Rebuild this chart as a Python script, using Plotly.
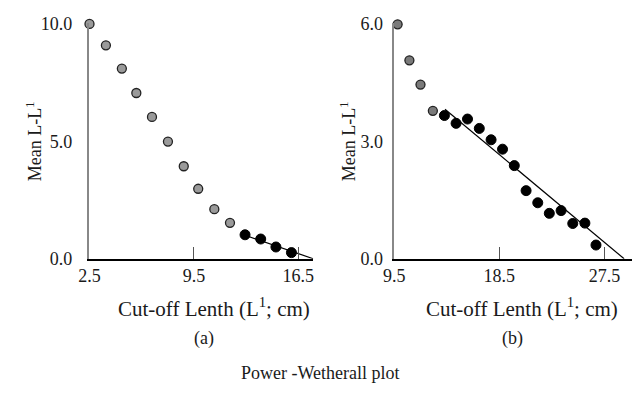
import plotly.graph_objects as go

# ---- data ----
a_gray_x = [2.5, 3.6, 4.67, 5.64, 6.69, 7.76, 8.82, 9.79, 10.87, 11.92]
a_gray_y = [10.0, 9.09, 8.1, 7.06, 6.04, 4.99, 3.94, 2.98, 2.11, 1.53]
a_black_x = [12.93, 13.98, 15.0, 16.04]
a_black_y = [1.02, 0.84, 0.50, 0.26]
a_fit_x = [12.93, 17.5]
a_fit_y = [1.0, 0.0]

b_gray_x = [9.78, 10.79, 11.74, 12.80]
b_gray_y = [5.99, 5.07, 4.45, 3.78]
b_black_x = [13.79, 14.79, 15.77, 16.78, 17.79, 18.77, 19.78, 20.79, 21.79,
             22.78, 23.79, 24.79, 25.83, 26.78]
b_black_y = [3.66, 3.46, 3.57, 3.33, 3.04, 2.80, 2.38, 1.74, 1.43, 1.16,
             1.23, 0.90, 0.91, 0.35]
b_fit_x = [13.84, 29.19]
b_fit_y = [3.82, 0.0]

a_xticks = [2.5, 9.5, 16.5]
a_yticks = [0.0, 5.0, 10.0]
b_xticks = [9.5, 18.5, 27.5]
b_yticks = [0.0, 3.0, 6.0]

FONT = "Liberation Serif"
W, H = 638, 395
TXT = "#1a1a1a"

fig = go.Figure()

gray_marker = dict(size=9, color="#9a9a9a", line=dict(color="#222", width=1.3))
black_marker = dict(size=10, color="black", line=dict(color="black", width=1))

fig.add_trace(go.Scatter(x=a_fit_x, y=a_fit_y, mode="lines",
                         line=dict(color="black", width=1.2), xaxis="x", yaxis="y",
                         cliponaxis=False))
fig.add_trace(go.Scatter(x=a_gray_x, y=a_gray_y, mode="markers", marker=gray_marker,
                         xaxis="x", yaxis="y", cliponaxis=False))
fig.add_trace(go.Scatter(x=a_black_x, y=a_black_y, mode="markers", marker=black_marker,
                         xaxis="x", yaxis="y", cliponaxis=False))

fig.add_trace(go.Scatter(x=b_fit_x, y=b_fit_y, mode="lines",
                         line=dict(color="black", width=1.2), xaxis="x2", yaxis="y2",
                         cliponaxis=False))
fig.add_trace(go.Scatter(x=b_gray_x, y=b_gray_y, mode="markers",
                         marker=dict(size=9, color="#7a7a7a", line=dict(color="#222", width=1.3)),
                         xaxis="x2", yaxis="y2", cliponaxis=False))
fig.add_trace(go.Scatter(x=b_black_x, y=b_black_y, mode="markers", marker=black_marker,
                         xaxis="x2", yaxis="y2", cliponaxis=False))

def px_x(p):
    return p / W

def px_y(p):
    return 1 - p / H

ydom = [px_y(262.7), px_y(15.5)]
common_x = dict(showline=True, linecolor="black", linewidth=1.5, ticks="inside",
                ticklen=12, tickwidth=1.3, tickcolor="#555", showgrid=False,
                zeroline=False, tickfont=dict(family=FONT, size=18, color=TXT))
# label axes: transparent outside ticks push labels away from the axis line
common_y = dict(showline=True, linecolor="#888", linewidth=1.5, ticks="outside",
                tickwidth=1, tickcolor="rgba(0,0,0,0)", showgrid=False,
                zeroline=False, tickfont=dict(family=FONT, size=18, color=TXT))
# overlay axes: visible inside ticks, no labels
tick_y = dict(ticks="inside", ticklen=12, tickwidth=1.3, tickcolor="#777",
              showticklabels=False, showline=False, showgrid=False, zeroline=False)

fig.update_layout(
    width=W, height=H, margin=dict(l=0, r=0, t=0, b=0),
    paper_bgcolor="white", plot_bgcolor="white", showlegend=False,
    font=dict(family=FONT, size=18, color=TXT),
    xaxis=dict(domain=[px_x(80), px_x(308)], range=[2.5, 17.5], tickvals=a_xticks,
               ticktext=[f"{v:.1f}" for v in a_xticks], anchor="y", **common_x),
    yaxis=dict(domain=ydom, range=[0, 10.05], tickvals=a_yticks, ticklen=12,
               ticktext=[f"{v:.1f}" for v in a_yticks], anchor="x", **common_y),
    yaxis3=dict(overlaying="y", anchor="x", side="left", range=[0, 10.05],
                tickvals=a_yticks, **tick_y),
    xaxis2=dict(domain=[px_x(390.7), px_x(633.3)], range=[9.5, 29.9], tickvals=b_xticks,
                ticktext=[f"{v:.1f}" for v in b_xticks], anchor="y2", **common_x),
    yaxis2=dict(domain=ydom, range=[0, 6.03], tickvals=b_yticks, ticklen=6,
                ticktext=[f"{v:.1f}" for v in b_yticks], anchor="x2", **common_y),
    yaxis4=dict(overlaying="y2", anchor="x2", side="left", range=[0, 6.03],
                tickvals=b_yticks, **tick_y),
)

def ann(text, x, y, angle=0, size=18):
    fig.add_annotation(text=text, x=px_x(x), y=px_y(y), xref="paper", yref="paper",
                       showarrow=False, textangle=angle, xanchor="center", yanchor="middle",
                       font=dict(family=FONT, size=size, color=TXT))

ann("Mean L-L<sup>1</sup>", 24, 140, -90)
ann("Mean L-L<sup>1</sup>", 344, 140, -90)
ann("Cut-off Lenth (L<sup>1</sup>; cm)", 206.7, 314, size=21)
ann("Cut-off Lenth (L<sup>1</sup>; cm)", 520.7, 314, size=21)
ann("(a)", 196.7, 346)
ann("(b)", 511, 346)
ann("Power -Wetherall plot", 315, 382)

fig.write_html("out.html")
